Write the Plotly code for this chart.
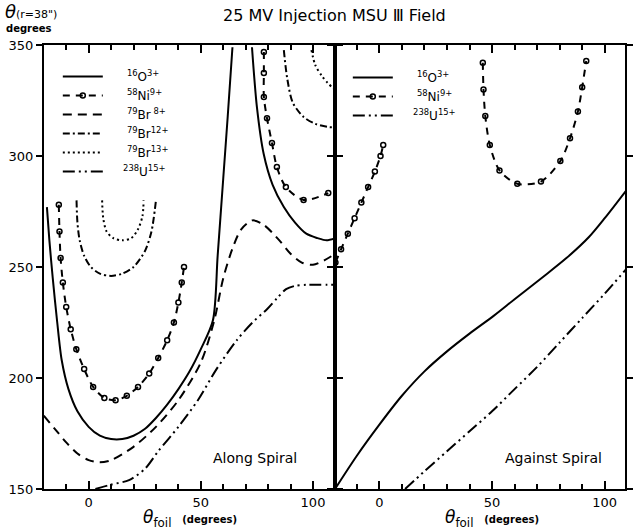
import plotly.graph_objects as go

# ---------------- data ----------------
# Left panel: "Along Spiral"
O16_L1_x = [-18.6, -17.5, -16, -14, -12, -9, -5, 0, 5, 10, 15, 20, 25, 30, 35, 40, 45, 50, 55.4, 57.5, 60, 62, 64.1]
O16_L1_y = [277, 262, 245, 225, 208, 195, 185, 178, 174, 172.5, 172.5, 174, 177, 182, 188, 195, 203, 213, 226, 255, 290, 318, 349]
O16_L2_x = [72.8, 75, 78, 82, 87, 92, 97, 102, 106, 110]
O16_L2_y = [349, 322, 301, 287, 277, 270, 265, 263, 262, 263]

Ni_L1_x = [-13.3, -13, -12.5, -11.5, -10, -8, -5.5, -2, 2, 7, 12, 17, 22, 27, 31, 35, 38, 40, 41.5, 42.5]
Ni_L1_y = [278, 266, 254, 243, 232, 222, 213, 204, 196, 191, 190, 192, 196, 202, 209, 217, 225, 234, 243, 250]
Ni_L2_x = [78.1, 78.1, 78.1, 79.5, 81.7, 83.9, 87.9, 95.8, 106.8]
Ni_L2_y = [346.8, 337.4, 326.6, 317, 305.9, 295, 286, 280.2, 283.3]

Br8_L_x = [-20, -15, -10, -5, 0, 5, 10, 20, 30, 40, 50, 56, 60, 64, 68, 73, 78, 85, 90, 95, 100, 105, 110]
Br8_L_y = [183, 177, 171, 166, 163, 162, 163, 169, 178, 190, 207, 226, 245, 258, 267, 271, 269, 262, 256, 252, 251, 253, 256]

Br12_L1_x = [-5.4, -5, -4, -2, 1, 5, 10, 15, 20, 25, 28, 30]
Br12_L1_y = [280, 270, 262, 255, 250, 247, 246, 247, 250, 257, 266, 280]
Br12_L2_x = [87, 88.5, 91, 95.8, 101, 107.2, 110]
Br12_L2_y = [347.7, 335, 324, 317.6, 314.5, 313, 313]

Br13_L1_x = [6, 6.5, 8, 11, 15, 19, 22, 24, 24.5]
Br13_L1_y = [280, 272, 266, 263, 262, 263, 267, 273, 280]
Br13_L2_x = [99.3, 101, 104, 106.5, 108.9, 110]
Br13_L2_y = [347.7, 341, 336, 333, 330.6, 330]

U15_L_x = [3, 10, 18, 25, 31, 40, 48.7, 57, 66, 73, 79.5, 84, 88, 92, 97, 103, 110]
U15_L_y = [150, 152, 154, 159, 167, 178, 190, 204, 217, 225, 231, 236, 240, 241.5, 242, 242, 242]

# Right panel: "Against Spiral"
O16_R_x = [-19.7, -10, 0, 10, 20, 30, 40, 50.7, 60, 72.6, 83, 93, 100, 109.7]
O16_R_y = [150, 165, 179, 192, 203, 212, 220, 228, 235.5, 245.5, 254, 263.5, 272, 284.7]

Ni_R1_x = [-19.5, -17, -14, -11, -8, -5, -2, 0.5, 1.7]
Ni_R1_y = [252, 258, 265, 272, 279, 286, 293, 300, 305]
Ni_R2_x = [45.9, 46.2, 47, 49, 53.3, 61.2, 71.7, 80.3, 84.6, 88.1, 90, 91.8]
Ni_R2_y = [342, 330, 318, 305, 293.5, 287.5, 288.5, 297.7, 308, 320, 331, 342.8]

U15_R_x = [11.4, 20, 30, 40, 50, 60, 70, 80, 90, 100, 109.5]
U15_R_y = [150, 158, 167, 176, 185, 195, 205, 216, 227, 238, 249]

# labels
NB = "\u00a0" * 5
L_O16 = NB + "<sup>16</sup>O<sup>3+</sup>"
L_Ni = NB + "<sup>58</sup>Ni<sup>9+</sup>"
L_Br8 = NB + "<sup>79</sup>Br<sup> 8+</sup>"
L_Br12 = NB + "<sup>79</sup>Br<sup>12+</sup>"
L_Br13 = NB + "<sup>79</sup>Br<sup>13+</sup>"
L_U15 = NB[:-1] + "<sup>238</sup>U<sup>15+</sup>"

X_RANGE_L = [-19.9, 109.8]
X_RANGE_R = [-19.7, 109.0]
Y_RANGE = [150, 350]

# ---------------- styles ----------------
LW = 2
DASH = {
    "O16": "solid",
    "Ni": "7px,6px",
    "Br8": "9px,6px",
    "Br12": "7px,3px,2px,3px",
    "Br13": "2px,3px",
    "U15": "12px,4px,2px,4px,2px,4px",
}

fig = go.Figure()


def add(x, y, key, name, xa, ya, legend, show, markers=False):
    kw = dict(
        x=x, y=y, xaxis=xa, yaxis=ya, name=name, legend=legend,
        legendgroup=legend + key, showlegend=show,
        line=dict(color="black", width=LW, dash=DASH[key], shape="spline", smoothing=0.8),
        hoverinfo="skip",
    )
    if markers:
        kw["mode"] = "lines+markers"
        kw["marker"] = dict(symbol="circle-open", size=5, color="black", line=dict(width=1.5, color="black"))
    else:
        kw["mode"] = "lines"
    fig.add_trace(go.Scatter(**kw))


# left panel
add(O16_L1_x, O16_L1_y, "O16", L_O16, "x", "y", "legend", True)
add(O16_L2_x, O16_L2_y, "O16", L_O16, "x", "y", "legend", False)
add(Ni_L1_x, Ni_L1_y, "Ni", L_Ni, "x", "y", "legend", True, markers=True)
add(Ni_L2_x, Ni_L2_y, "Ni", L_Ni, "x", "y", "legend", False, markers=True)
add(Br8_L_x, Br8_L_y, "Br8", L_Br8, "x", "y", "legend", True)
add(Br12_L1_x, Br12_L1_y, "Br12", L_Br12, "x", "y", "legend", True)
add(Br12_L2_x, Br12_L2_y, "Br12", L_Br12, "x", "y", "legend", False)
add(Br13_L1_x, Br13_L1_y, "Br13", L_Br13, "x", "y", "legend", True)
add(Br13_L2_x, Br13_L2_y, "Br13", L_Br13, "x", "y", "legend", False)
add(U15_L_x, U15_L_y, "U15", L_U15, "x", "y", "legend", True)

# right panel
add(O16_R_x, O16_R_y, "O16", L_O16, "x2", "y2", "legend2", True)
add(Ni_R1_x, Ni_R1_y, "Ni", L_Ni, "x2", "y2", "legend2", True, markers=True)
add(Ni_R2_x, Ni_R2_y, "Ni", L_Ni, "x2", "y2", "legend2", False, markers=True)
add(U15_R_x, U15_R_y, "U15", L_U15, "x2", "y2", "legend2", True)

FONT = "DejaVu Sans"

axis_common = dict(
    showline=True, linecolor="black", linewidth=2, mirror="ticks",
    showgrid=False, zeroline=False, ticks="inside", tickcolor="black",
    tickwidth=1.5, ticklen=8,
    tickfont=dict(family=FONT, size=13, color="black"),
)
xaxis_common = dict(
    axis_common, tick0=0, dtick=50,
    minor=dict(dtick=10, ticks="inside", ticklen=5, tickcolor="black", tickwidth=1.5),
)
yaxis_common = dict(axis_common, tick0=150, dtick=50, range=Y_RANGE, ticks="outside", ticklen=6)

split = 295 / 589
leg_common = dict(xanchor="left", yanchor="top", bgcolor="rgba(0,0,0,0)",
                  font=dict(family=FONT, size=12, color="black"),
                  tracegroupgap=0, itemwidth=40)
fig.update_layout(
    width=641, height=531,
    margin=dict(l=44, r=8, t=45, b=42),
    paper_bgcolor="white", plot_bgcolor="white",
    font=dict(family=FONT, color="black"),
    xaxis=dict(xaxis_common, domain=[0, split], range=X_RANGE_L, anchor="y"),
    xaxis2=dict(xaxis_common, domain=[split, 1], range=X_RANGE_R, anchor="y2"),
    yaxis=dict(yaxis_common, domain=[0, 1], anchor="x"),
    yaxis2=dict(yaxis_common, domain=[0, 1], anchor="x2", showticklabels=False),
    legend=dict(leg_common, x=(58 - 44) / 589, y=(489 - 62) / 444),
    legend2=dict(leg_common, x=(352 - 44) / 589, y=(489 - 63) / 444),
    showlegend=True,
)

DEG = "<span style='font-size:10px'><b>(degrees)</b></span>"
ann = [
    dict(text="25 MV Injection MSU Ⅲ Field", x=(339 - 44) / 589, y=(489 - 15) / 444,
         font=dict(size=16)),
    dict(text="<span style='font-size:18px'><i>θ</i></span>(r=38\")", x=(2 - 44) / 589,
         y=(489 - 12) / 444, xanchor="left", font=dict(size=11)),
    dict(text="<b>degrees</b>", x=(3 - 44) / 589, y=(489 - 28) / 444, xanchor="left",
         font=dict(size=10)),
    dict(text="<i>θ</i><sub>foil</sub>  " + DEG, x=(192 - 44) / 589, y=(489 - 518) / 444,
         font=dict(size=17)),
    dict(text="<i>θ</i><sub>foil</sub>  " + DEG, x=(498 - 44) / 589, y=(489 - 518) / 444,
         font=dict(size=17)),
    dict(text="Along Spiral", x=(258 - 44) / 589, y=(489 - 458) / 444, font=dict(size=14)),
    dict(text="Against Spiral", x=(561 - 44) / 589, y=(489 - 458) / 444, font=dict(size=14)),
]
for a in ann:
    a.setdefault("xanchor", "center")
    a.update(xref="paper", yref="paper", showarrow=False, yanchor="middle")
    a["font"] = dict(family=FONT, color="black", **a["font"])
fig.update_layout(annotations=ann)

fig.write_html("out.html")
